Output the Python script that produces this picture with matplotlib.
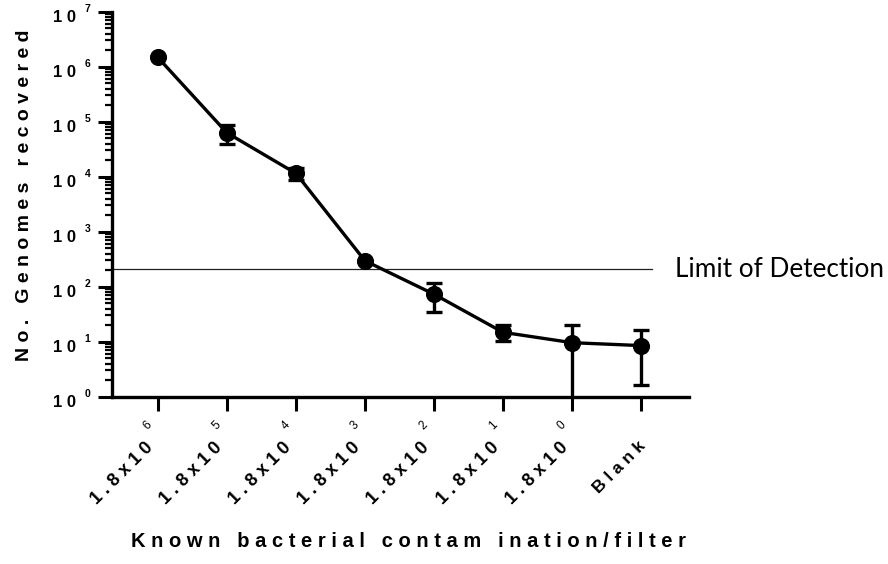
import numpy as np
import matplotlib
matplotlib.use("Agg")
import matplotlib.pyplot as plt
import matplotlib.transforms as mtransforms

# data
tick_base = ["1.8x10", "1.8x10", "1.8x10", "1.8x10", "1.8x10", "1.8x10", "1.8x10", "Blank"]
tick_exp = ["6", "5", "4", "3", "2", "1", "0", ""]
genomes = [1.48e6, 6.3e4, 1.15e4, 296, 73, 14.8, 9.6, 8.5]
err_low = [1.48e6, 3.9e4, 8.8e3, 296, 34, 10.5, 0, 1.63]
err_high = [1.48e6, 8.9e4, 1.45e4, 296, 115, 19.8, 20, 16.3]
lod = 210
y_exps = [0, 1, 2, 3, 4, 5, 6, 7]

ARIAL = "Liberation Sans"


def spaced(s):
    return " ".join(s)


fig = plt.figure(figsize=(8.88, 5.64), dpi=100)
ax = fig.add_axes([0.1258, 0.2966, 0.650, 0.6826])

x = np.arange(len(genomes))
y = np.array(genomes)
yerr = np.array([y - np.array(err_low), np.array(err_high) - y])

ax.errorbar(x, y, yerr=yerr, fmt="o-", color="black", lw=2.4, ms=11.3,
            elinewidth=2.4, capsize=5.8, capthick=2.4, zorder=3)

ax.set_yscale("log")
ax.set_ylim(1, 1e7)
ax.set_xlim(-0.667, 7.69)

# limit of detection line
ax.plot([-0.667, 7.16], [lod, lod], color="#222222", lw=0.9, zorder=2, clip_on=False)
ax.text(7.49, lod, "Limit of Detection", fontfamily="Lato", fontsize=18.8,
        va="center", ha="left", clip_on=False)

for s in ["top", "right"]:
    ax.spines[s].set_visible(False)
for s in ["left", "bottom"]:
    ax.spines[s].set_linewidth(2.4)

ax.set_xticks(x)
ax.set_xticklabels([])
ax.set_yticks([10.0 ** e for e in y_exps])
ax.set_yticklabels([])
ax.tick_params(axis="both", which="major", direction="out", length=10, width=2.2)
ax.tick_params(axis="y", which="minor", direction="out", length=5, width=1.6)

# y tick labels: 10 with superscript exponent
ytr = mtransforms.blended_transform_factory(ax.transAxes, ax.transData)
for e in y_exps:
    ax.annotate(spaced("10"), xy=(0, 10.0 ** e), xycoords=ytr,
                xytext=(-36, -5.5), textcoords="offset pixels",
                ha="right", va="center", fontfamily=ARIAL, fontweight="bold",
                fontsize=12)
    ax.annotate(str(e), xy=(0, 10.0 ** e), xycoords=ytr,
                xytext=(-24, 2.5), textcoords="offset pixels",
                ha="center", va="center", fontfamily=ARIAL, fontweight="bold",
                fontsize=7.5)

# x tick labels rotated 45 degrees
xtr = mtransforms.blended_transform_factory(ax.transData, ax.transAxes)
for i, (b, e) in enumerate(zip(tick_base, tick_exp)):
    if e:
        ax.annotate(spaced(b), xy=(i, 0), xycoords=xtr,
                    xytext=(-7, -48), textcoords="offset pixels",
                    ha="right", va="center", rotation=45, rotation_mode="anchor",
                    fontfamily=ARIAL, fontweight="bold", fontsize=13)
        ax.annotate(e, xy=(i, 0), xycoords=xtr,
                    xytext=(-10, -28.5), textcoords="offset pixels",
                    ha="center", va="center", rotation=45, rotation_mode="anchor",
                    fontfamily=ARIAL, fontsize=8.5)
    else:
        ax.annotate(spaced(b), xy=(i, 0), xycoords=xtr,
                    xytext=(2, -47), textcoords="offset pixels",
                    ha="right", va="center", rotation=45, rotation_mode="anchor",
                    fontfamily=ARIAL, fontweight="bold", fontsize=12.5)

fig.text(0.028, 0.654, spaced("No. Genomes recovered"), rotation=90,
         ha="center", va="center", fontfamily=ARIAL, fontweight="bold", fontsize=14)
fig.text(0.4595, 0.0395, spaced("Known bacterial contam ination/filter"),
         ha="center", va="center", fontfamily=ARIAL, fontweight="bold", fontsize=14.5)

fig.savefig("out.png", dpi=100)
